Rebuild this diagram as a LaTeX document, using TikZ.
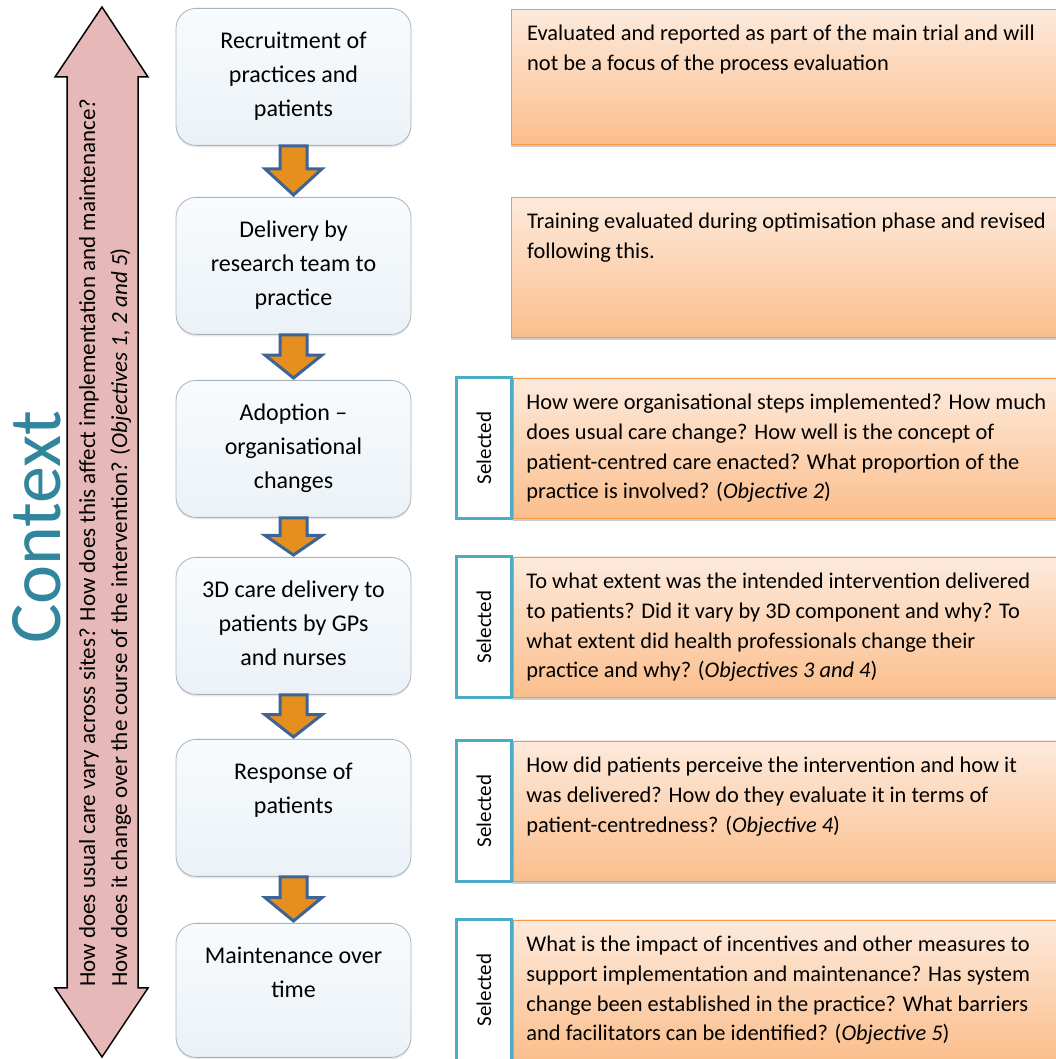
\documentclass[tikz,border=0pt]{standalone}
\usepackage{fontspec}
\setmainfont{Carlito}
\usetikzlibrary{calc,positioning,shadows}
\definecolor{ctxpink}{HTML}{E6B9B8}
\definecolor{ctxteal}{HTML}{31859C}
\definecolor{flowfill}{HTML}{E48F1E}
\definecolor{flowdraw}{HTML}{3E6496}
\definecolor{selblue}{HTML}{4BACC6}
\definecolor{qtop}{HTML}{FDEADC}
\definecolor{qbot}{HTML}{FBBE8C}
\definecolor{qdraw}{HTML}{F79646}
\definecolor{stagetop}{HTML}{F8FBFD}
\definecolor{stagebot}{HTML}{EBF2F7}
\definecolor{stagedraw}{HTML}{A9B3BD}

\begin{document}
\begin{tikzpicture}[
    x=1pt,y=1pt,
    stage/.style={rectangle,rounded corners=20pt,draw=stagedraw,thick,top color=stagetop,bottom color=stagebot,minimum width=235pt,minimum height=137pt,anchor=north,inner sep=0pt,
        drop shadow={shadow xshift=0pt,shadow yshift=-2pt,fill=stagedraw,opacity=.3}},
    stagetext/.style={anchor=north,align=center,inner sep=0pt,font=\fontsize{24}{34}\selectfont,execute at begin node=\strut},
    flow/.style={draw=flowdraw,fill=flowfill,line width=3pt},
    sel/.style={rectangle,draw=selblue,fill=white,line width=3.5pt,minimum width=55pt,minimum height=141pt,inner sep=0pt},
    seltext/.style={rotate=90,inner sep=0pt,font=\fontsize{21}{24}\selectfont},
    quest/.style={rectangle,draw=qdraw,top color=qtop,bottom color=qbot,minimum width=550pt,minimum height=140pt,inner sep=0pt,
        drop shadow={shadow xshift=0pt,shadow yshift=-3pt,fill=black,opacity=.2}},
    qtext/.style={anchor=north west,align=left,inner sep=0pt,font=\fontsize{22.4}{29.8}\selectfont,execute at begin node=\strut},
    ctx/.style={rotate=90,anchor=base west,inner sep=0pt,font=\fontsize{23}{30}\selectfont},
]
    \useasboundingbox (0,0) rectangle (1056,1059);

    \draw[fill=ctxpink,line width=1.5pt,line join=miter]
        (102,1052) -- (148,982) -- (138,982) -- (138,71) -- (148,71) -- (102,2)
        -- (55,71) -- (67,71) -- (67,982) -- (55,982) -- cycle;
    \node[ctx] (ctxq1) at (95,72) {How does usual care vary across sites? How does this affect implementation and maintenance?};
    \node[ctx] (ctxq2) at (127,72) {How does it change over the course of the intervention? (\textit{Objectives 1, 2 and 5})};
    \node[rotate=90,text=ctxteal,inner sep=0pt,font=\fontsize{74}{80}\selectfont] (ctx) at (37,532) {Context};

    \node[stage] (b1) at (293.5,1051) {};
    \node[stage] (b2) at (293.5,862) {};
    \node[stage] (b3) at (293.5,679) {};
    \node[stage] (b4) at (293.5,502) {};
    \node[stage] (b5) at (293.5,320) {};
    \node[stage,minimum height=134pt] (b6) at (293.5,136) {};

    \node[stagetext] (t1) at ([yshift=-24pt]b1.north) {Recruitment of\\practices and\\patients};
    \node[stagetext] (t2) at ([yshift=-24pt]b2.north) {Delivery by\\research team to\\practice};
    \node[stagetext] (t3) at ([yshift=-24pt]b3.north) {Adoption --\\organisational\\changes};
    \node[stagetext] (t4) at ([yshift=-24pt]b4.north) {3D care delivery to\\patients by GPs\\and nurses};
    \node[stagetext] (t5) at ([yshift=-24pt]b5.north) {Response of\\patients};
    \node[stagetext] (t6) at ([yshift=-24pt]b6.north) {Maintenance over\\time};

    \foreach \a/\b in {b1/b2,b2/b3,b3/b4,b4/b5,b5/b6}
        \draw[flow] let \p1=(\a.south), \p2=(\b.north), \n1={\y1+0.45*(\y2-\y1)} in
            (\x1-13.5,\y1) -- (\x1-13.5,\n1) -- (\x1-28.5,\n1) -- (\x1,\y2+2) -- (\x1+28.5,\n1)
            -- (\x1+13.5,\n1) -- (\x1+13.5,\y1) -- cycle;

    \node[quest,minimum height=135pt,anchor=north west] (q1) at (511,1050) {};
    \node[quest,anchor=north west] (q2) at (511,862) {};
    \node[sel] (s3) at (484,611) {};
    \node[sel] (s4) at (484,432) {};
    \node[sel] (s5) at (484,248) {};
    \node[sel] (s6) at (484,69) {};
    \node[quest,right=0pt of s3] (q3) {};
    \node[quest,right=0pt of s4] (q4) {};
    \node[quest,right=0pt of s5] (q5) {};
    \node[quest,right=0pt of s6] (q6) {};
    \foreach \s in {3,4,5,6}
        \node[seltext] (l\s) at (s\s) {Selected};

    \node[qtext] (x1) at ([xshift=16pt,yshift=-16pt]q1.north west) {Evaluated and reported as part of the main trial and will\\not be a focus of the process evaluation};
    \node[qtext] (x2) at ([xshift=16pt,yshift=-16pt]q2.north west) {Training evaluated during optimisation phase and revised\\following this.};
    \node[qtext] (x3) at ([xshift=13pt,yshift=-16pt]q3.north west) {How were organisational steps implemented? How much\\does usual care change? How well is the concept of\\patient-centred care enacted? What proportion of the\\practice is involved? (\textit{Objective 2})};
    \node[qtext] (x4) at ([xshift=13pt,yshift=-16pt]q4.north west) {To what extent was the intended intervention delivered\\to patients? Did it vary by 3D component and why? To\\what extent did health professionals change their\\practice and why? (\textit{Objectives 3 and 4})};
    \node[qtext] (x5) at ([xshift=13pt,yshift=-16pt]q5.north west) {How did patients perceive the intervention and how it\\was delivered? How do they evaluate it in terms of\\patient-centredness? (\textit{Objective 4})};
    \node[qtext] (x6) at ([xshift=13pt,yshift=-16pt]q6.north west) {What is the impact of incentives and other measures to\\support implementation and maintenance? Has system\\change been established in the practice? What barriers\\and facilitators can be identified? (\textit{Objective 5})};
\end{tikzpicture}
\end{document}
